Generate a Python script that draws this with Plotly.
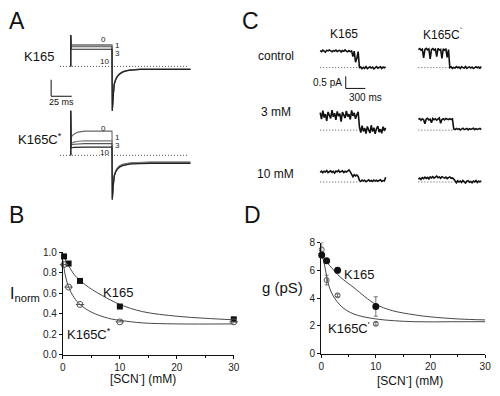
import plotly.graph_objects as go

W, H = 500, 396
FONT = "Liberation Sans, Arial, sans-serif"

# ---------------- Panel A: whole-cell currents (ms, nA) ----------------
A_K165_T = [0, 0, 0.6, 50, 50.4, 51.3, 52.7, 54.5, 56.8, 59.5, 62.7, 67, 72.6, 84.5, 145]
K165_I_0 = [0, 1.9, 1.31, 1.31, -2.69, -1.90, -1.04, -0.75, -0.55, -0.42, -0.32, -0.25, -0.20, -0.16, -0.16]
K165_I_1 = [0, 1.9, 1.25, 1.25, -2.69, -1.92, -1.06, -0.77, -0.56, -0.43, -0.33, -0.26, -0.21, -0.17, -0.17]
K165_I_3 = [0, 1.9, 1.19, 1.19, -2.69, -1.94, -1.08, -0.79, -0.58, -0.45, -0.34, -0.27, -0.22, -0.18, -0.18]
K165_I_10 = [0, 1.9, 1.04, 1.04, -2.69, -1.96, -1.10, -0.81, -0.60, -0.46, -0.35, -0.28, -0.23, -0.19, -0.19]

A_K165C_T = [0, 0, 0.6, 4, 9, 17, 50, 50.4, 51.3, 52.7, 54.5, 56.8, 59.5, 62.7, 72.6, 96.4, 145]
K165C_I_0 = [0, 2.7, 1.12, 1.29, 1.41, 1.47, 1.47, -2.68, -1.80, -1.20, -0.93, -0.75, -0.63, -0.55, -0.45, -0.41, -0.41]
K165C_I_1 = [0, 2.7, 0.72, 0.80, 0.85, 0.88, 0.88, -2.68, -1.82, -1.22, -0.95, -0.77, -0.65, -0.57, -0.47, -0.43, -0.43]
K165C_I_3 = [0, 2.7, 0.62, 0.67, 0.70, 0.71, 0.71, -2.68, -1.86, -1.26, -0.99, -0.81, -0.69, -0.61, -0.51, -0.48, -0.48]
K165C_I_10 = [0, 2.7, 0.45, 0.48, 0.50, 0.50, 0.50, -2.68, -1.88, -1.28, -1.01, -0.83, -0.71, -0.63, -0.53, -0.49, -0.49]
A_SWEEP_LABELS = ["0", "1", "3", "10"]
A_ZERO_T = [-13, 142]

# ---------------- Panel C: single-channel records (pA, 20 ms samples) ----------------
C_DT = 20
CTRL_K165 = [0.70, 0.66, 0.72, 0.68, 0.64, 0.71, 0.69, 0.73, 0.67, 0.65, 0.70, 0.68, 0.72, 0.66, 0.69,
             0.71, 0.64, 0.70, 0.67, 0.73, 0.68, 0.65, 0.70, 0.66, 0.69, 0.45, 0.68, 0.22, 0.38, 0.66,
             -0.02, 0.03, -0.05, 0.01, -0.03, 0.04, -0.04, 0.00, 0.03, -0.02, 0.02, -0.05, 0.01, 0.04,
             -0.03, 0.00, 0.03, -0.04, 0.02, -0.01, 0.03]
CTRL_K165C = [0.74, 0.78, 0.72, 0.76, 0.40, 0.75, 0.79, 0.73, 0.77, 0.36, 0.74, 0.78, 0.72, 0.76, 0.45,
              0.79, 0.73, 0.75, 0.38, 0.77, 0.72, 0.76, 0.42, 0.74,
              0.00, 0.03, -0.03, 0.01, -0.02, 0.04, -0.01, 0.02, -0.04, 0.03, 0.00, -0.02, 0.04, -0.03,
              0.01, 0.03, -0.02, 0.02, -0.04, 0.01, 0.03, -0.01, 0.02, -0.03, 0.04]
MM3_K165 = [0.72, 0.45, 0.80, 0.52, 0.66, 0.38, 0.75, 0.60, 0.48, 0.82, 0.55, 0.70, 0.42, 0.77, 0.58,
            0.68, 0.35, 0.74, 0.62, 0.50, 0.79, 0.56, 0.66, 0.44, 0.81, 0.59, 0.71, 0.47, 0.63, 0.76,
            0.12, -0.10, 0.18, -0.05, 0.08, -0.14, 0.15, 0.02, -0.12, 0.20, -0.06, 0.10, -0.15, 0.06,
            0.16, -0.08, 0.04, -0.13, 0.14, -0.03, 0.09]
MM3_K165C = [0.44, 0.48, 0.41, 0.47, 0.43, 0.26, 0.46, 0.49, 0.42, 0.45, 0.30, 0.48, 0.43, 0.47, 0.41,
             0.46, 0.50, 0.28, 0.44, 0.47, 0.42, 0.48, 0.45, 0.43, 0.47, 0.44, 0.46,
             0.05, 0.02, 0.07, 0.03, 0.06, 0.01, 0.05, 0.08, 0.02, 0.04, 0.07, 0.01, 0.06, 0.03, 0.05,
             0.08, 0.02, 0.06, 0.03, 0.05, 0.07, 0.02]
MM10_K165 = [0.40, 0.45, 0.38, 0.44, 0.41, 0.47, 0.39, 0.43, 0.46, 0.40, 0.44, 0.37, 0.45, 0.42, 0.48,
             0.40, 0.43, 0.46, 0.39, 0.44, 0.41, 0.47, 0.50, 0.42,
             0.28, 0.22, 0.30, 0.25, 0.29, 0.23,
             0.06, 0.02, 0.08, 0.04, 0.07, 0.01, 0.05, 0.09, 0.03, 0.06, 0.02, 0.08, 0.04, 0.07, 0.03,
             0.05, 0.09, 0.02, 0.06, 0.04, 0.20]
MM10_K165C = [0.12, 0.16, 0.10, 0.18, 0.14, 0.20, 0.15, 0.19, 0.13, 0.21, 0.17, 0.22, 0.16, 0.20, 0.24,
              0.18, 0.21, 0.15, 0.22, 0.19, 0.16, 0.20, 0.14, 0.18, 0.21, 0.15, 0.17, 0.12,
              0.02, -0.03, 0.05, 0.00, 0.04, -0.02, 0.06, 0.01, -0.04, 0.03, 0.05, -0.01, 0.02, -0.03,
              0.04, 0.00, 0.06, -0.02, 0.03, 0.01, 0.04]
C_DOT_END = [600, 465, 600, 525, 600, 555]   # ms, end of dotted zero line per record
C_COLS = ["K165", "K165C<sup>`</sup>"]
C_ROWS = ["control", "3 mM", "10 mM"]

# ---------------- Panel B: normalized current vs [SCN-] ----------------
B_X = [0.2, 1, 3, 10, 30]
B_K165 = [0.96, 0.89, 0.72, 0.47, 0.345]
B_K165C = [0.88, 0.66, 0.49, 0.32, 0.32]
B_FIT_X1 = [0, 0.5, 1, 2, 3, 5, 7, 10, 14, 20, 25, 30]
B_FIT_K165 = [0.98, 0.92, 0.87, 0.78, 0.725, 0.64, 0.575, 0.49, 0.42, 0.375, 0.355, 0.34]
B_FIT_X2 = [0, 0.4, 1, 2, 3, 5, 8, 10, 14, 20, 30]
B_FIT_K165C = [0.92, 0.78, 0.66, 0.555, 0.49, 0.415, 0.355, 0.335, 0.31, 0.30, 0.30]

# ---------------- Panel D: conductance vs [SCN-] ----------------
D_X = [0.1, 1, 3, 10]
D_K165 = [7.1, 6.7, 6.0, 3.4]
D_K165_ERR = [0.15, 0.15, 0.2, 0.7]
D_K165C = [7.5, 5.3, 4.2, 2.15]
D_K165C_ERR = [0.5, 0.35, 0.1, 0.1]
D_FIT_X1 = [0, 0.5, 1, 2, 3, 4, 6, 8, 10, 13, 17, 20, 25, 30]
D_FIT_K165 = [7.2, 6.9, 6.6, 6.15, 5.7, 5.35, 4.75, 4.1, 3.55, 3.1, 2.8, 2.65, 2.5, 2.43]
D_FIT_X2 = [0, 0.5, 1, 1.4, 2, 2.9, 4, 6, 10, 17, 24, 30]
D_FIT_K165C = [7.3, 6.6, 5.6, 4.9, 4.3, 3.75, 3.3, 2.85, 2.5, 2.3, 2.3, 2.3]


def fx(p):
    return p / W


def fy(p):
    return 1 - p / H


fig = go.Figure()
layout = dict(width=W, height=H, margin=dict(l=0, r=0, t=0, b=0),
              paper_bgcolor="white", plot_bgcolor="rgba(0,0,0,0)",
              showlegend=False, font=dict(family=FONT, color="#111"))

hidden = dict(visible=False, showgrid=False, zeroline=False, fixedrange=True)
DOT = "1px,2px"

# ---- A axes (x: ms, y: nA); 0.84 px per ms, 17 px per nA
A_PX_MS, A_PX_NA = 0.84, 17.0
A_X0 = 69
layout["xaxis"] = dict(hidden, domain=[fx(40), fx(200)],
                       range=[(40 - A_X0) / A_PX_MS, (200 - A_X0) / A_PX_MS], anchor="y")
layout["yaxis"] = dict(hidden, domain=[fy(112), fy(20)],
                       range=[(62.3 - 112) / A_PX_NA, (62.3 - 20) / A_PX_NA], anchor="x")
layout["xaxis2"] = dict(hidden, domain=[fx(40), fx(200)],
                        range=[(40 - A_X0) / A_PX_MS, (200 - A_X0) / A_PX_MS], anchor="y2")
layout["yaxis2"] = dict(hidden, domain=[fy(210), fy(104)],
                        range=[(154 - 210) / A_PX_NA, (154 - 104) / A_PX_NA], anchor="x2")

sweep_colors = ["#666", "#777", "#555", "#222"]
for (ax, ay, T, sweeps) in [("x", "y", A_K165_T, [K165_I_0, K165_I_1, K165_I_3, K165_I_10]),
                            ("x2", "y2", A_K165C_T, [K165C_I_0, K165C_I_1, K165C_I_3, K165C_I_10])]:
    fig.add_trace(go.Scatter(x=A_ZERO_T, y=[0, 0], mode="lines", xaxis=ax, yaxis=ay,
                             line=dict(color="#555", width=1, dash=DOT), hoverinfo="skip"))
    for I, c in zip(sweeps, sweep_colors):
        fig.add_trace(go.Scatter(x=T, y=I, mode="lines", xaxis=ax, yaxis=ay,
                                 line=dict(color=c, width=1.1), hoverinfo="skip"))

# ---- C axes (x: ms, y: pA); 1/15 px per ms, 25 px per pA
C_MS_PX, C_PX_PA = 15.0, 25.0
col_px = [(320, 395, 323), (420, 495, 423)]
row_px = [(40, 90, 63.5), (100, 140, 128.0), (158, 192, 181.5)]
records = [CTRL_K165, CTRL_K165C, MM3_K165, MM3_K165C, MM10_K165, MM10_K165C]
k = 0
for r, (top, bot, zero) in enumerate(row_px):
    for c, (left, right, t0) in enumerate(col_px):
        n = 5 + k
        xa, ya = f"xaxis{n}", f"yaxis{n}"
        layout[xa] = dict(hidden, domain=[fx(left), fx(right)],
                          range=[(left - t0) * C_MS_PX, (right - t0) * C_MS_PX], anchor=f"y{n}")
        layout[ya] = dict(hidden, domain=[fy(bot), fy(top)],
                          range=[(zero - bot) / C_PX_PA, (zero - top) / C_PX_PA], anchor=f"x{n}")
        vals = records[k]
        t = [i * C_DT for i in range(len(vals))]
        fig.add_trace(go.Scatter(x=[0, C_DOT_END[k]], y=[0, 0], mode="lines",
                                 xaxis=f"x{n}", yaxis=f"y{n}",
                                 line=dict(color="#555", width=1, dash=DOT), hoverinfo="skip"))
        fig.add_trace(go.Scatter(x=t, y=vals, mode="lines", xaxis=f"x{n}", yaxis=f"y{n}",
                                 line=dict(color="#111", width=1.6), hoverinfo="skip"))
        k += 1

# ---- B axes
tickfont = dict(family=FONT, size=10, color="#222")
axis_common = dict(showgrid=False, zeroline=False, showline=True, linecolor="#111", linewidth=1,
                   ticks="outside", ticklen=3, tickcolor="#111", tickfont=tickfont, fixedrange=True,
                   ticklabeloverflow="allow")
layout["xaxis3"] = dict(axis_common, domain=[fx(61), fx(235)], range=[0, 30], anchor="y3",
                        tickvals=[0, 10, 20, 30], minor=dict(ticks="outside", ticklen=2, dtick=5,
                                                             tickcolor="#111"))
layout["yaxis3"] = dict(axis_common, domain=[fy(359.5), fy(254)], range=[0, 1.0], anchor="x3",
                        tickvals=[0, 0.2, 0.4, 0.6, 0.8, 1.0], tickformat=".1f")

fig.add_trace(go.Scatter(x=B_FIT_X1, y=B_FIT_K165, mode="lines", xaxis="x3", yaxis="y3",
                         line=dict(color="#333", width=0.9, shape="spline"), hoverinfo="skip"))
fig.add_trace(go.Scatter(x=B_FIT_X2, y=B_FIT_K165C, mode="lines", xaxis="x3", yaxis="y3",
                         line=dict(color="#333", width=0.9, shape="spline"), hoverinfo="skip"))
fig.add_trace(go.Scatter(x=B_X, y=B_K165, mode="markers", xaxis="x3", yaxis="y3", cliponaxis=False,
                         marker=dict(symbol="square", size=6, color="#111")))
fig.add_trace(go.Scatter(x=B_X, y=B_K165C, mode="markers", xaxis="x3", yaxis="y3", cliponaxis=False,
                         marker=dict(symbol="circle-open", size=6, color="#555",
                                     line=dict(width=1, color="#555"))))
fig.add_trace(go.Scatter(x=B_X, y=B_K165C, mode="markers", xaxis="x3", yaxis="y3", cliponaxis=False,
                         marker=dict(symbol="line-ew-open", size=6, color="#555",
                                     line=dict(width=1, color="#555"))))

# ---- D axes
layout["xaxis4"] = dict(axis_common, domain=[fx(324), fx(491)], range=[0, 30], anchor="y4",
                        tickvals=[0, 10, 20, 30], minor=dict(ticks="outside", ticklen=2, dtick=5,
                                                             tickcolor="#111"))
layout["yaxis4"] = dict(axis_common, domain=[fy(358.5), fy(244)], range=[0, 8], anchor="x4",
                        tickvals=[0, 2, 4, 6, 8])

fig.add_trace(go.Scatter(x=D_FIT_X1, y=D_FIT_K165, mode="lines", xaxis="x4", yaxis="y4",
                         line=dict(color="#333", width=0.9, shape="spline"), hoverinfo="skip"))
fig.add_trace(go.Scatter(x=D_FIT_X2, y=D_FIT_K165C, mode="lines", xaxis="x4", yaxis="y4",
                         line=dict(color="#333", width=0.9, shape="spline"), hoverinfo="skip"))
fig.add_trace(go.Scatter(x=D_X, y=D_K165C, mode="markers", xaxis="x4", yaxis="y4", cliponaxis=False,
                         error_y=dict(type="data", array=D_K165C_ERR, color="#555", thickness=0.8, width=2),
                         marker=dict(symbol="circle-open", size=5, color="#555",
                                     line=dict(width=1, color="#555"))))
fig.add_trace(go.Scatter(x=D_X, y=D_K165, mode="markers", xaxis="x4", yaxis="y4", cliponaxis=False,
                         error_y=dict(type="data", array=D_K165_ERR, color="#555", thickness=0.8, width=2),
                         marker=dict(symbol="circle", size=7, color="#111")))

fig.update_layout(**layout)

# ---- scale bars
shapes = []
# A: 25 ms x 1 nA, corner at (-23.8 ms, -1.81 nA) of the K165 axes
sb_t, sb_i = -23.8, -1.81
shapes.append(dict(type="line", xref="x", yref="y", x0=sb_t, x1=sb_t, y0=sb_i, y1=sb_i + 1.0,
                   line=dict(color="#111", width=1)))
shapes.append(dict(type="line", xref="x", yref="y", x0=sb_t, x1=sb_t + 25, y0=sb_i, y1=sb_i,
                   line=dict(color="#111", width=1)))
# C: 300 ms x 0.5 pA in the control K165 axes
cb_t, cb_i = 390, -0.86
shapes.append(dict(type="line", xref="x5", yref="y5", x0=cb_t, x1=cb_t, y0=cb_i, y1=cb_i + 0.5,
                   line=dict(color="#111", width=1)))
shapes.append(dict(type="line", xref="x5", yref="y5", x0=cb_t, x1=cb_t + 300, y0=cb_i, y1=cb_i,
                   line=dict(color="#111", width=1)))
fig.update_layout(shapes=shapes)

# ---- text
ann = []


def txt(text, x, y, size, xanchor="center", color="#111"):
    ann.append(dict(text=text, x=fx(x), y=fy(y), xref="paper", yref="paper", showarrow=False,
                    xanchor=xanchor, yanchor="middle", font=dict(family=FONT, size=size, color=color)))


for letter, x, y in [("A", 14, 15), ("B", 14, 216), ("C", 252, 15), ("D", 254, 216)]:
    txt(letter, x, y, 23)

txt("K165", 37, 52, 13)
txt("K165C<sup>*</sup>", 38, 137, 13)
txt("25 ms", 60, 99, 9)
# sweep labels (in axis coords: ms, nA)
for axn, pos in [("", [(39.3, 1.66), (57, 1.28), (57, 0.80), (40.5, 0.31)]),
                 ("2", [(39.3, 1.65), (57, 1.09), (57, 0.61), (40.5, 0.18)])]:
    for lab, (tx, ty) in zip(A_SWEEP_LABELS, pos):
        ann.append(dict(text=lab, x=tx, y=ty, xref="x" + axn, yref="y" + axn, showarrow=False,
                        font=dict(family=FONT, size=8, color="#222")))

txt(C_COLS[0], 347, 29, 12)
txt(C_COLS[1], 448, 29, 12)
for lab, y in zip(C_ROWS, [52, 109, 173]):
    txt(lab, 278, y, 12)
txt("0.5 pA", 347, 79, 10, xanchor="right")
txt("300 ms", 369, 94, 10)

txt("I<sub>norm</sub>", 22, 298, 16)
txt("K165", 117, 295, 13)
txt("K165C<sup>*</sup>", 88, 338, 13)
txt("[SCN<sup>-</sup>] (mM)", 143, 384, 12)

txt("g (pS)", 285, 290, 15)
txt("K165", 363, 277, 13)
txt("K165C<sup>'</sup>", 352, 332, 13)
txt("[SCN<sup>-</sup>] (mM)", 414, 386, 12)

fig.update_layout(annotations=ann)
fig.write_html("out.html", config={"displayModeBar": False},
               post_script="document.body.style.margin='0px';document.body.style.overflow='hidden';")
